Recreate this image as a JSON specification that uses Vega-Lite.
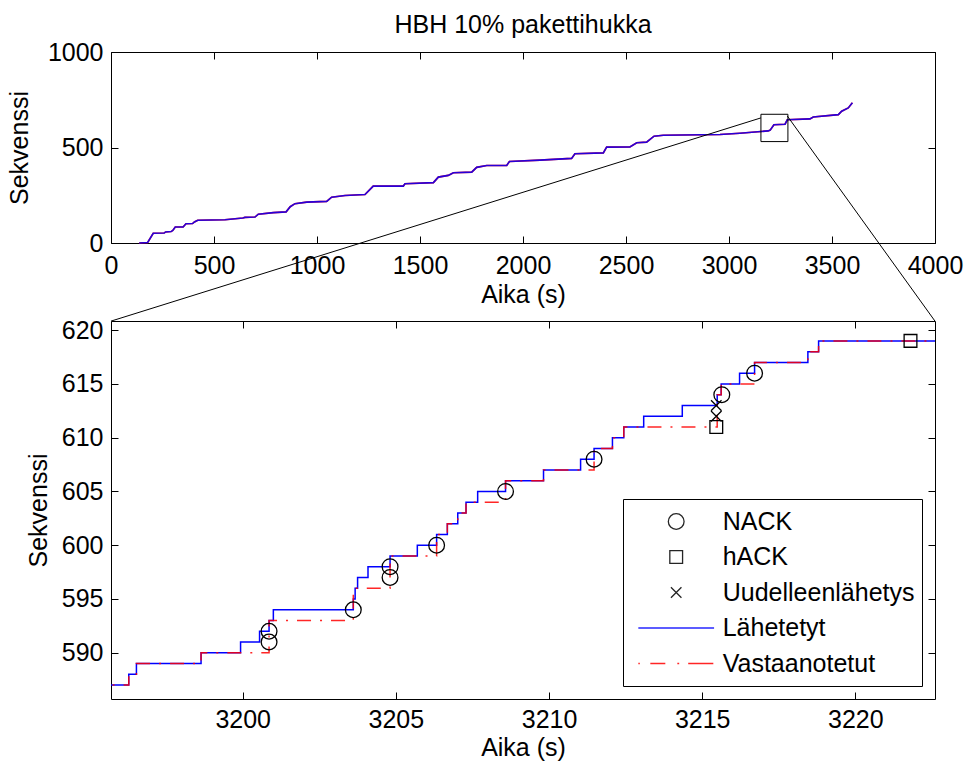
{
  "$schema": "https://vega.github.io/schema/vega-lite/v6.json",
  "background": "white",
  "padding": {"left": 7, "top": 13, "right": 5, "bottom": 5},
  "bounds": "flush",
  "spacing": 78,
  "config": {
    "font": "Liberation Sans",
    "view": {"stroke": null},
    "axis": {
      "grid": false,
      "tickSize": -7,
      "tickColor": "black",
      "tickWidth": 1,
      "domainColor": "black",
      "domainWidth": 1,
      "labelPadding": 15,
      "labelFont": "Liberation Sans",
      "labelFontSize": 25,
      "labelColor": "black",
      "labelFlush": false,
      "labelOverlap": false,
      "titleFont": "Liberation Sans",
      "titleFontSize": 25,
      "titleFontWeight": "normal",
      "titleColor": "black"
    }
  },
  "datasets": {
    "yleis": [
      {"aika": 137, "sekvenssi": 0}, {"aika": 178, "sekvenssi": 3}, {"aika": 205, "sekvenssi": 51},
      {"aika": 258, "sekvenssi": 52}, {"aika": 265, "sekvenssi": 58}, {"aika": 292, "sekvenssi": 60},
      {"aika": 300, "sekvenssi": 66}, {"aika": 312, "sekvenssi": 84}, {"aika": 350, "sekvenssi": 84},
      {"aika": 364, "sekvenssi": 101}, {"aika": 396, "sekvenssi": 102}, {"aika": 405, "sekvenssi": 110},
      {"aika": 421, "sekvenssi": 119}, {"aika": 553, "sekvenssi": 122}, {"aika": 640, "sekvenssi": 131},
      {"aika": 650, "sekvenssi": 134}, {"aika": 699, "sekvenssi": 136}, {"aika": 715, "sekvenssi": 151},
      {"aika": 788, "sekvenssi": 159}, {"aika": 850, "sekvenssi": 163}, {"aika": 870, "sekvenssi": 190},
      {"aika": 893, "sekvenssi": 206}, {"aika": 950, "sekvenssi": 214}, {"aika": 1047, "sekvenssi": 218},
      {"aika": 1071, "sekvenssi": 240}, {"aika": 1136, "sekvenssi": 249}, {"aika": 1233, "sekvenssi": 254},
      {"aika": 1273, "sekvenssi": 298}, {"aika": 1419, "sekvenssi": 298}, {"aika": 1427, "sekvenssi": 310},
      {"aika": 1565, "sekvenssi": 316}, {"aika": 1589, "sekvenssi": 345}, {"aika": 1637, "sekvenssi": 354},
      {"aika": 1662, "sekvenssi": 368}, {"aika": 1751, "sekvenssi": 371}, {"aika": 1775, "sekvenssi": 396},
      {"aika": 1824, "sekvenssi": 406}, {"aika": 1921, "sekvenssi": 406}, {"aika": 1934, "sekvenssi": 427},
      {"aika": 2083, "sekvenssi": 434}, {"aika": 2236, "sekvenssi": 443}, {"aika": 2252, "sekvenssi": 467},
      {"aika": 2390, "sekvenssi": 472}, {"aika": 2406, "sekvenssi": 502}, {"aika": 2519, "sekvenssi": 503},
      {"aika": 2552, "sekvenssi": 525}, {"aika": 2600, "sekvenssi": 528}, {"aika": 2636, "sekvenssi": 559},
      {"aika": 2681, "sekvenssi": 564}, {"aika": 2956, "sekvenssi": 568}, {"aika": 3053, "sekvenssi": 575},
      {"aika": 3190, "sekvenssi": 587}, {"aika": 3200, "sekvenssi": 591}, {"aika": 3218, "sekvenssi": 619},
      {"aika": 3272, "sekvenssi": 622}, {"aika": 3283, "sekvenssi": 645}, {"aika": 3393, "sekvenssi": 650},
      {"aika": 3409, "sekvenssi": 660}, {"aika": 3531, "sekvenssi": 672}, {"aika": 3547, "sekvenssi": 690},
      {"aika": 3579, "sekvenssi": 707}, {"aika": 3599, "sekvenssi": 734}
    ],
    "zoomalue": [
      {"x1": 3155, "x2": 3286, "y1": 531, "y2": 674}
    ],
    "yhdysviivat": [
      {"x1": 3155, "y1": 655, "x2": 0, "y2": -409},
      {"x1": 3283, "y1": 665, "x2": 4000, "y2": -409}
    ],
    "lahetetyt": [
      {"aika": 3195.0, "sekvenssi": 587, "sarja": "Lähetetyt"},
      {"aika": 3196.28, "sekvenssi": 588, "sarja": "Lähetetyt"},
      {"aika": 3196.53, "sekvenssi": 589, "sarja": "Lähetetyt"},
      {"aika": 3198.64, "sekvenssi": 590, "sarja": "Lähetetyt"},
      {"aika": 3199.93, "sekvenssi": 591, "sarja": "Lähetetyt"},
      {"aika": 3200.55, "sekvenssi": 592, "sarja": "Lähetetyt"},
      {"aika": 3200.86, "sekvenssi": 593, "sarja": "Lähetetyt"},
      {"aika": 3201.0, "sekvenssi": 594, "sarja": "Lähetetyt"},
      {"aika": 3203.61, "sekvenssi": 595, "sarja": "Lähetetyt"},
      {"aika": 3203.67, "sekvenssi": 596, "sarja": "Lähetetyt"},
      {"aika": 3203.75, "sekvenssi": 597, "sarja": "Lähetetyt"},
      {"aika": 3204.09, "sekvenssi": 598, "sarja": "Lähetetyt"},
      {"aika": 3204.81, "sekvenssi": 599, "sarja": "Lähetetyt"},
      {"aika": 3205.7, "sekvenssi": 600, "sarja": "Lähetetyt"},
      {"aika": 3206.33, "sekvenssi": 601, "sarja": "Lähetetyt"},
      {"aika": 3206.68, "sekvenssi": 602, "sarja": "Lähetetyt"},
      {"aika": 3207.02, "sekvenssi": 603, "sarja": "Lähetetyt"},
      {"aika": 3207.29, "sekvenssi": 604, "sarja": "Lähetetyt"},
      {"aika": 3207.67, "sekvenssi": 605, "sarja": "Lähetetyt"},
      {"aika": 3208.58, "sekvenssi": 606, "sarja": "Lähetetyt"},
      {"aika": 3209.82, "sekvenssi": 607, "sarja": "Lähetetyt"},
      {"aika": 3211.03, "sekvenssi": 608, "sarja": "Lähetetyt"},
      {"aika": 3211.47, "sekvenssi": 609, "sarja": "Lähetetyt"},
      {"aika": 3212.07, "sekvenssi": 610, "sarja": "Lähetetyt"},
      {"aika": 3212.44, "sekvenssi": 611, "sarja": "Lähetetyt"},
      {"aika": 3213.09, "sekvenssi": 612, "sarja": "Lähetetyt"},
      {"aika": 3214.35, "sekvenssi": 613, "sarja": "Lähetetyt"},
      {"aika": 3215.49, "sekvenssi": 614, "sarja": "Lähetetyt"},
      {"aika": 3215.62, "sekvenssi": 615, "sarja": "Lähetetyt"},
      {"aika": 3216.22, "sekvenssi": 616, "sarja": "Lähetetyt"},
      {"aika": 3216.71, "sekvenssi": 617, "sarja": "Lähetetyt"},
      {"aika": 3218.45, "sekvenssi": 618, "sarja": "Lähetetyt"},
      {"aika": 3218.8, "sekvenssi": 619, "sarja": "Lähetetyt"},
      {"aika": 3223.0, "sekvenssi": 619, "sarja": "Lähetetyt"}
    ],
    "vastaanotetut": [
      {"aika": 3195.0, "sekvenssi": 587, "sarja": "Vastaanotetut"},
      {"aika": 3196.28, "sekvenssi": 588, "sarja": "Vastaanotetut"},
      {"aika": 3196.53, "sekvenssi": 589, "sarja": "Vastaanotetut"},
      {"aika": 3198.64, "sekvenssi": 590, "sarja": "Vastaanotetut"},
      {"aika": 3200.86, "sekvenssi": 593, "sarja": "Vastaanotetut"},
      {"aika": 3203.61, "sekvenssi": 596, "sarja": "Vastaanotetut"},
      {"aika": 3204.81, "sekvenssi": 599, "sarja": "Vastaanotetut"},
      {"aika": 3206.33, "sekvenssi": 601, "sarja": "Vastaanotetut"},
      {"aika": 3206.68, "sekvenssi": 602, "sarja": "Vastaanotetut"},
      {"aika": 3207.02, "sekvenssi": 603, "sarja": "Vastaanotetut"},
      {"aika": 3207.29, "sekvenssi": 604, "sarja": "Vastaanotetut"},
      {"aika": 3208.58, "sekvenssi": 606, "sarja": "Vastaanotetut"},
      {"aika": 3209.82, "sekvenssi": 607, "sarja": "Vastaanotetut"},
      {"aika": 3211.47, "sekvenssi": 609, "sarja": "Vastaanotetut"},
      {"aika": 3212.07, "sekvenssi": 610, "sarja": "Vastaanotetut"},
      {"aika": 3212.44, "sekvenssi": 611, "sarja": "Vastaanotetut"},
      {"aika": 3215.49, "sekvenssi": 614, "sarja": "Vastaanotetut"},
      {"aika": 3215.62, "sekvenssi": 615, "sarja": "Vastaanotetut"},
      {"aika": 3216.71, "sekvenssi": 617, "sarja": "Vastaanotetut"},
      {"aika": 3218.45, "sekvenssi": 618, "sarja": "Vastaanotetut"},
      {"aika": 3218.8, "sekvenssi": 619, "sarja": "Vastaanotetut"},
      {"aika": 3223.0, "sekvenssi": 619, "sarja": "Vastaanotetut"}
    ],
    "merkit": [
      {"aika": 3200.86, "sekvenssi": 591, "sarja": "NACK"},
      {"aika": 3200.86, "sekvenssi": 592, "sarja": "NACK"},
      {"aika": 3203.61, "sekvenssi": 594, "sarja": "NACK"},
      {"aika": 3204.81, "sekvenssi": 597, "sarja": "NACK"},
      {"aika": 3204.81, "sekvenssi": 598, "sarja": "NACK"},
      {"aika": 3206.33, "sekvenssi": 600, "sarja": "NACK"},
      {"aika": 3208.58, "sekvenssi": 605, "sarja": "NACK"},
      {"aika": 3211.47, "sekvenssi": 608, "sarja": "NACK"},
      {"aika": 3215.64, "sekvenssi": 614, "sarja": "NACK"},
      {"aika": 3216.71, "sekvenssi": 616, "sarja": "NACK"},
      {"aika": 3215.46, "sekvenssi": 611, "sarja": "hACK"},
      {"aika": 3221.8, "sekvenssi": 619, "sarja": "hACK"},
      {"aika": 3215.46, "sekvenssi": 612, "sarja": "Uudelleenlähetys"},
      {"aika": 3215.46, "sekvenssi": 613, "sarja": "Uudelleenlähetys"}
    ]
  },
  "vconcat": [
    {
      "title": {"text": "HBH 10% pakettihukka", "fontSize": 25, "fontWeight": "normal", "color": "black", "offset": 2},
      "width": 824,
      "height": 191,
      "resolve": {"axis": {"x": "independent", "y": "independent"}},
      "layer": [
        {
          "data": {"name": "yleis"},
          "mark": {"type": "line", "color": "#ff0000", "strokeWidth": 1.6},
          "encoding": {
            "x": {"field": "aika", "type": "quantitative", "scale": {"domain": [0, 4000], "nice": false},
                  "axis": {"title": "Aika (s)", "titlePadding": 4, "labelPadding": 17, "format": "d", "values": [0, 500, 1000, 1500, 2000, 2500, 3000, 3500, 4000]}},
            "y": {"field": "sekvenssi", "type": "quantitative", "scale": {"domain": [0, 1000], "nice": false},
                  "axis": {"title": "Sekvenssi", "titlePadding": 15, "format": "d", "values": [0, 500, 1000]}}
          }
        },
        {
          "data": {"name": "yleis"},
          "mark": {"type": "line", "color": "#0000ff", "opacity": 0.85, "strokeWidth": 1.6},
          "encoding": {
            "x": {"field": "aika", "type": "quantitative",
                  "axis": {"orient": "top", "labels": false, "title": null, "values": [0, 500, 1000, 1500, 2000, 2500, 3000, 3500, 4000]}},
            "y": {"field": "sekvenssi", "type": "quantitative",
                  "axis": {"orient": "right", "labels": false, "title": null, "values": [0, 500, 1000]}}
          }
        },
        {
          "data": {"name": "zoomalue"},
          "mark": {"type": "rect", "filled": false, "stroke": "black", "strokeWidth": 1},
          "encoding": {
            "x": {"field": "x1", "type": "quantitative", "axis": null},
            "x2": {"field": "x2"},
            "y": {"field": "y1", "type": "quantitative", "axis": null},
            "y2": {"field": "y2"}
          }
        },
        {
          "data": {"name": "yhdysviivat"},
          "mark": {"type": "rule", "clip": false, "color": "black", "strokeWidth": 1},
          "encoding": {
            "x": {"field": "x1", "type": "quantitative", "axis": null},
            "y": {"field": "y1", "type": "quantitative", "axis": null},
            "x2": {"field": "x2"},
            "y2": {"field": "y2"}
          }
        }
      ]
    },
    {
      "width": 824,
      "height": 378,
      "resolve": {"axis": {"x": "independent", "y": "independent"}},
      "layer": [
        {
          "data": {"name": "lahetetyt"},
          "mark": {"type": "line", "interpolate": "step-after", "strokeWidth": 1.5, "clip": true},
          "encoding": {
            "x": {"field": "aika", "type": "quantitative", "scale": {"domain": [3195.7, 3222.6], "nice": false, "zero": false},
                  "axis": {"title": "Aika (s)", "titlePadding": 3, "labelPadding": 15, "values": [3200, 3205, 3210, 3215, 3220], "format": "d"}},
            "y": {"field": "sekvenssi", "type": "quantitative", "scale": {"domain": [585.7, 620.85], "nice": false, "zero": false},
                  "axis": {"title": "Sekvenssi", "titlePadding": 10, "format": "d", "values": [590, 595, 600, 605, 610, 615, 620]}},
            "color": {"field": "sarja", "type": "nominal",
                      "scale": {"domain": ["NACK", "hACK", "Uudelleenlähetys", "Lähetetyt", "Vastaanotetut"],
                                "range": ["black", "black", "black", "#0000ff", "#ff0000"]},
                      "legend": {"title": null, "orient": "none", "legendX": 512, "legendY": 447,
                                 "symbolSize": 5625, "clipHeight": 31, "rowPadding": 4.5, "padding": 7,
                                 "labelOffset": 8, "symbolOffset": 7.7, "labelFontSize": 25, "labelLimit": 400,
                                 "labelColor": "black", "strokeColor": "black", "fillColor": "white",
                                 "symbolStrokeWidth": 1.3, "cornerRadius": 0}}
          }
        },
        {
          "data": {"name": "vastaanotetut"},
          "mark": {"type": "line", "interpolate": "step-after", "strokeWidth": 1.5, "strokeDash": [14, 9, 2, 9], "opacity": 0.85, "clip": true},
          "encoding": {
            "x": {"field": "aika", "type": "quantitative", "axis": null},
            "y": {"field": "sekvenssi", "type": "quantitative", "axis": null},
            "color": {"field": "sarja", "type": "nominal"}
          }
        },
        {
          "data": {"name": "merkit"},
          "mark": {"type": "point", "filled": false, "size": 5625, "strokeWidth": 1.3, "opacity": 1},
          "encoding": {
            "x": {"field": "aika", "type": "quantitative",
                  "axis": {"orient": "top", "labels": false, "title": null, "values": [3200, 3205, 3210, 3215, 3220]}},
            "y": {"field": "sekvenssi", "type": "quantitative",
                  "axis": {"orient": "right", "labels": false, "title": null, "values": [590, 595, 600, 605, 610, 615, 620]}},
            "color": {"field": "sarja", "type": "nominal"},
            "shape": {"field": "sarja", "type": "nominal",
                      "scale": {"domain": ["NACK", "hACK", "Uudelleenlähetys", "Lähetetyt", "Vastaanotetut"],
                                "range": [
                                  "M0.21,0A0.21,0.21,0,1,1,-0.21,0A0.21,0.21,0,1,1,0.21,0Z",
                                  "M-0.17,-0.17L0.17,-0.17L0.17,0.17L-0.17,0.17Z",
                                  "M-0.14,-0.14L0.14,0.14M-0.14,0.14L0.14,-0.14",
                                  "M-1.01,0L1.01,0",
                                  "M-1.01,0L-0.97,0M-0.69,0L-0.29,0M0.03,0L0.08,0M0.32,0L0.99,0"
                                ]},
                      "legend": {"title": null, "orient": "none", "legendX": 512, "legendY": 447,
                                 "symbolSize": 5625, "clipHeight": 31, "rowPadding": 4.5, "padding": 7,
                                 "labelOffset": 8, "symbolOffset": 7.7, "labelFontSize": 25, "labelLimit": 400,
                                 "labelColor": "black", "strokeColor": "black", "fillColor": "white",
                                 "symbolStrokeWidth": 1.3, "cornerRadius": 0}}
          }
        }
      ]
    }
  ]
}
